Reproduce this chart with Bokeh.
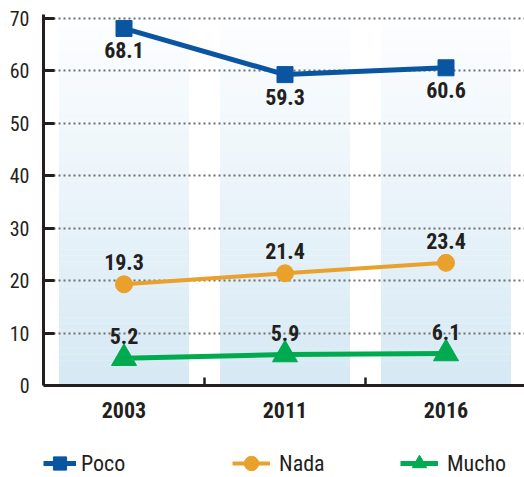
from bokeh.plotting import figure
from bokeh.models import Range1d, FixedTicker, Legend, LegendItem
from bokeh.core.properties import value
from bokeh.embed import file_html
from bokeh.resources import INLINE

# ---- data ----
years = ["2003", "2011", "2016"]
poco = [68.1, 59.3, 60.6]
nada = [19.3, 21.4, 23.4]
mucho = [5.2, 5.9, 6.1]
y_ticks = [0, 10, 20, 30, 40, 50, 60, 70]

FONT = "Roboto Condensed"
TEXT = "#231f20"
BLUE = "#0a55a2"
ORANGE = "#e9a12b"
GREEN = "#00aa4f"

xs = list(range(len(years)))
PX = 367 / 70.0          # pixels per unit (y)
YTOP = 70 + 4 / PX
YBOT = -(477 - 385) / PX

p = figure(width=524, height=477, output_backend="svg", toolbar_location=None,
           x_range=Range1d(-0.5, -0.5 + 481 / 161), y_range=Range1d(YBOT, YTOP),
           min_border_left=43, min_border_right=0, min_border_top=14,
           min_border_bottom=0)
p.outline_line_color = None
p.background_fill_color = "white"

# ---- background bands with vertical gradient ----
n_strips = 60
top_c = (253, 254, 255)
bot_c = (214, 233, 244)
for k in range(n_strips):
    t = k / (n_strips - 1)
    c = tuple(int(round(bot_c[j] + (top_c[j] - bot_c[j]) * t)) for j in range(3))
    col = "#%02x%02x%02x" % c
    y0 = YTOP * k / n_strips
    y1 = min(YTOP * (k + 1) / n_strips + 0.05, YTOP)
    r = p.quad(left=[i - 0.404 for i in xs], right=[i + 0.404 for i in xs],
               bottom=[y0] * len(xs), top=[y1] * len(xs),
               fill_color=col, line_color=None)
    r.level = "image"

# ---- grid ----
p.xgrid.visible = False
p.ygrid.ticker = FixedTicker(ticks=y_ticks[1:])
p.ygrid.grid_line_color = "#6f6f6f"
p.ygrid.grid_line_width = 2
p.ygrid.grid_line_dash = "2 3"

# ---- axes ----
p.yaxis.ticker = FixedTicker(ticks=y_ticks)
p.yaxis.bounds = (0, YTOP)
p.yaxis.axis_line_width = 3
p.yaxis.axis_line_color = TEXT
p.yaxis.major_tick_in = 11
p.yaxis.major_tick_out = 0
p.yaxis.major_tick_line_width = 3
p.yaxis.major_tick_line_color = TEXT
p.yaxis.minor_tick_line_color = None
p.yaxis.major_label_text_font = FONT
p.yaxis.major_label_text_font_size = "20px"
p.yaxis.major_label_text_color = TEXT
p.yaxis.major_label_standoff = 14

p.xaxis.fixed_location = 0
p.xaxis.ticker = FixedTicker(ticks=xs, minor_ticks=[0.5, 1.5])
p.xaxis.major_label_overrides = {i: years[i] for i in xs}
p.xaxis.major_tick_line_color = None
p.xaxis.minor_tick_in = 8
p.xaxis.minor_tick_out = 0
p.xaxis.minor_tick_line_width = 2.5
p.xaxis.minor_tick_line_color = TEXT
p.xaxis.axis_line_width = 3
p.xaxis.axis_line_color = TEXT
p.xaxis.major_label_text_font = FONT
p.xaxis.major_label_text_font_style = "bold"
p.xaxis.major_label_text_font_size = "22px"
p.xaxis.major_label_text_color = TEXT
p.xaxis.major_label_standoff = 10

# ---- series ----
l1 = p.line(xs, poco, color=BLUE, line_width=5)
m1 = p.scatter(xs, poco, marker="square", size=16, color=BLUE)
l2 = p.line(xs, nada, color=ORANGE, line_width=4)
m2 = p.scatter(xs, nada, marker="circle", size=17, color=ORANGE)
l3 = p.line(xs, mucho, color=GREEN, line_width=5)
m3 = p.scatter(xs, mucho, marker="triangle", size=25, color=GREEN)

def labels(vals, off):
    p.text(x=xs, y=vals, text=["%.1f" % v for v in vals], y_offset=off,
           text_align="center", text_baseline="middle",
           text_font=value(FONT), text_font_style="bold",
           text_font_size="22px", text_color=TEXT)

labels(poco, 22)
labels(nada, -22)
labels(mucho, -22)

# ---- legends ----
for lab, rs, xloc, gw, st in [("Poco", [l1, m1], 0, 33, 5),
                              ("Nada", [l2, m2], 189, 38, 9),
                              ("Mucho", [l3, m3], 357, 38, 9)]:
    leg = Legend(items=[LegendItem(label=lab, renderers=rs)], location=(xloc, -4),
                 orientation="horizontal", glyph_width=gw, glyph_height=36,
                 label_height=36, label_standoff=st, padding=0, margin=0, spacing=0,
                 background_fill_alpha=0, border_line_alpha=0,
                 label_text_font=FONT, label_text_font_size="22px",
                 label_text_color=TEXT)
    p.add_layout(leg)

open("out.html", "w").write(file_html(p, INLINE))
